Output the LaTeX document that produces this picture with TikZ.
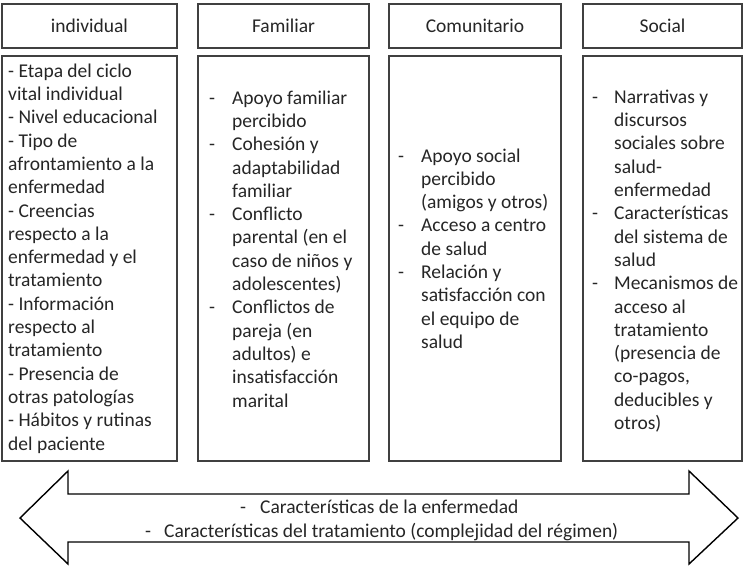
\documentclass[tikz,border=0pt]{standalone}
\usepackage{fontspec}
\setmainfont{Carlito}
\definecolor{boxgray}{HTML}{404040}
\definecolor{txt}{HTML}{262626}
\begin{document}
\begin{tikzpicture}[x=1pt,y=-1pt,
  box/.style={draw=boxgray,line width=1.8pt,fill=white},
  head/.style={font=\fontsize{19.5}{23.3}\selectfont,text=txt,anchor=base},
  body/.style={font=\fontsize{19.5}{23.3}\selectfont,text=txt,align=left,anchor=base west,inner sep=0pt},
  arrowshape/.style={draw=black,line width=1.4pt,line join=miter,fill=white}]
\useasboundingbox (0,0) rectangle (744,566);
% header boxes
\draw[box] (2,4) rectangle (177,48);
\draw[box] (198,4) rectangle (369,48);
\draw[box] (389,4) rectangle (561,48);
\draw[box] (583,4) rectangle (742,48);
\node[head] (h1) at (89.5,32.5) {individual};
\node[head] (h2) at (283.5,32.5) {Familiar};
\node[head] (h3) at (475,32.5) {Comunitario};
\node[head] (h4) at (662.5,32.5) {Social};
% content boxes
\draw[box] (2,56) rectangle (177,461);
\draw[box] (198,56) rectangle (369,461);
\draw[box] (389,56) rectangle (561,461);
\draw[box] (583,56) rectangle (742,461);
% body nodes: base anchor is the baseline of the last line
\node[body] (b1) at (8,450) {- Etapa del ciclo\\vital individual\\- Nivel educacional\\- Tipo de\\afrontamiento a la\\enfermedad\\- Creencias\\respecto a la\\enfermedad y el\\tratamiento\\- Información\\respecto al\\tratamiento\\- Presencia de\\otras patologías\\- Hábitos y rutinas\\del paciente};
\node[body] (b2) at (209,407) {\makebox[23pt][l]{-}Apoyo familiar\\\hspace*{23pt}percibido\\\makebox[23pt][l]{-}Cohesión y\\\hspace*{23pt}adaptabilidad\\\hspace*{23pt}familiar\\\makebox[23pt][l]{-}Conflicto\\\hspace*{23pt}parental (en el\\\hspace*{23pt}caso de niños y\\\hspace*{23pt}adolescentes)\\\makebox[23pt][l]{-}Conflictos de\\\hspace*{23pt}pareja (en\\\hspace*{23pt}adultos) e\\\hspace*{23pt}insatisfacción\\\hspace*{23pt}marital};
\node[body] (b3) at (398,348.4) {\makebox[23pt][l]{-}Apoyo social\\\hspace*{23pt}percibido\\\hspace*{23pt}(amigos y otros)\\\makebox[23pt][l]{-}Acceso a centro\\\hspace*{23pt}de salud\\\makebox[23pt][l]{-}Relación y\\\hspace*{23pt}satisfacción con\\\hspace*{23pt}el equipo de\\\hspace*{23pt}salud};
\node[body] (b4) at (592,429.5) {\makebox[22pt][l]{-}Narrativas y\\\hspace*{22pt}discursos\\\hspace*{22pt}sociales sobre\\\hspace*{22pt}salud-\\\hspace*{22pt}enfermedad\\\makebox[22pt][l]{-}Características\\\hspace*{22pt}del sistema de\\\hspace*{22pt}salud\\\makebox[22pt][l]{-}Mecanismos de\\\hspace*{22pt}acceso al\\\hspace*{22pt}tratamiento\\\hspace*{22pt}(presencia de\\\hspace*{22pt}co-pagos,\\\hspace*{22pt}deducibles y\\\hspace*{22pt}otros)};
% double arrow
\draw[arrowshape] (68,471) -- (20,518) -- (68,564) -- (68,542) -- (689,542) -- (689,564) -- (738,518) -- (689,471) -- (689,494) -- (68,494) -- cycle;
\node[body] (a1) at (240,513) {\makebox[20pt][l]{-}Características de la enfermedad};
\node[body] (a2) at (145,537) {\makebox[19pt][l]{-}Características del tratamiento (complejidad del régimen)};
\end{tikzpicture}
\end{document}
